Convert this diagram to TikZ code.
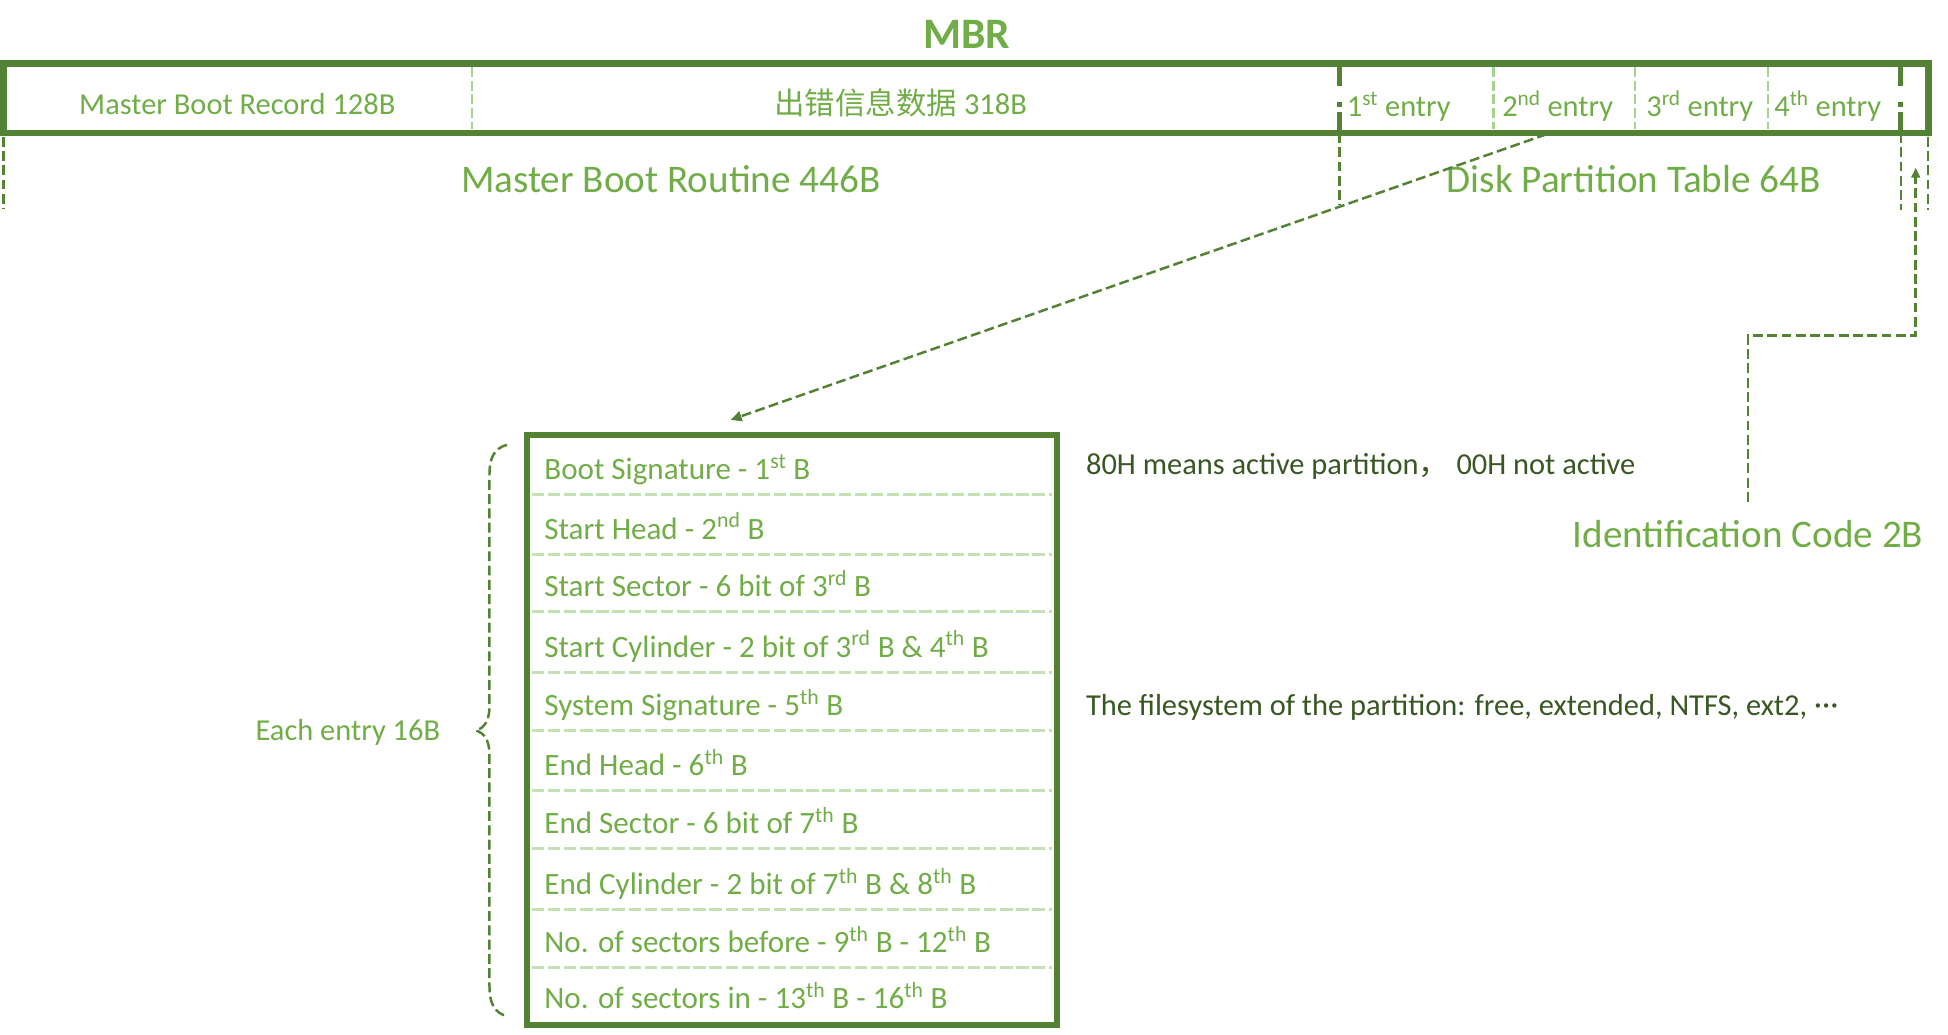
\documentclass[tikz,border=0pt]{standalone}
\usepackage{fontspec}
\setmainfont{Carlito}
\newfontfamily\cjk{Noto Sans CJK SC}
\usetikzlibrary{arrows.meta}
\definecolor{gtext}{HTML}{70AD47}
\definecolor{gline}{HTML}{548235}
\definecolor{glight}{HTML}{A9D18E}
\definecolor{gpale}{HTML}{C5E0B4}
\definecolor{gdark}{HTML}{385723}
\tikzset{
  lbl/.style={text=gtext, font=\fontsize{24.5}{28}\selectfont, inner sep=0pt, anchor=base},
  lblw/.style={lbl, anchor=base west},
  rowl/.style={text=gtext, font=\fontsize{25}{28}\selectfont, inner sep=0pt, anchor=base west},
  bigl/.style={text=gtext, font=\fontsize{31.5}{36}\selectfont, inner sep=0pt, anchor=base},
  notel/.style={text=gdark, font=\fontsize{24.5}{28}\selectfont, inner sep=0pt, anchor=base west},
  titl/.style={text=gtext, font=\bfseries\fontsize{35}{40}\selectfont, inner sep=0pt, anchor=base},
  barbox/.style={draw=gline, line width=5.5pt, minimum width=1549pt, minimum height=56pt, inner sep=0pt},
  entbox/.style={draw=gline, line width=5pt, minimum width=427pt, minimum height=475pt, inner sep=0pt},
  lightdiv/.style={draw=glight, line width=2pt, dash pattern=on 8pt off 3pt},
  rowdiv/.style={draw=gpale, line width=2.5pt, dash pattern=on 10pt off 3pt},
  darkdiv/.style={draw=gline, line width=4pt, dash pattern=on 15pt off 13pt on 4pt off 4pt on 30pt off 0pt},
  conn/.style={draw=gline, line width=2pt, dash pattern=on 8pt off 3.5pt},
  tip/.style={-{Triangle[length=9pt,width=8pt]}},
}
\begin{document}
\begin{tikzpicture}[x=1pt,y=-1pt]
\useasboundingbox (0,0) rectangle (1568,833);
% title
\node[titl] (mbr) at (778,39) {MBR};
% top bar
\node[barbox] (bar) at (777.5,79) {};
% coordinates on the bar
\coordinate (t380) at (380,54);  \coordinate (b380) at (380,104);
\coordinate (t1202) at (1202,54); \coordinate (b1202) at (1202,104);
\coordinate (t1316) at (1316,54); \coordinate (b1316) at (1316,104);
\coordinate (t1423) at (1423,54); \coordinate (b1423) at (1423,104);
\coordinate (t1078) at (1078,54); \coordinate (b1078) at (1078,107);
\coordinate (t1530) at (1530,54); \coordinate (b1530) at (1530,107);
\coordinate (d1078) at (1078,165);
\coordinate (d1530) at (1530,169);
\coordinate (b3) at (3,110); \coordinate (d3) at (3,168);
\coordinate (b1552) at (1552,110); \coordinate (d1552) at (1552,169);
\draw[lightdiv] (t380) -- (b380);
\draw[lightdiv] (t1202) -- (b1202);
\draw[lightdiv] (t1316) -- (b1316);
\draw[lightdiv] (t1423) -- (b1423);
\draw[darkdiv] (t1078) -- (b1078);
\draw[darkdiv] (t1530) -- (b1530);
\draw[conn] (b1078) -- (d1078);
\draw[conn] (b1530) -- (d1530);
\draw[conn] (b3) -- (d3);
\draw[conn] (b1552) -- (d1552);
% bar texts
\node[lbl] (mbrec) at (191,92) {Master Boot Record 128B};
\node[lbl] (err) at (725,92) {{\cjk 出错信息数据} 318B};
\node[lblw] (e1) at (1084,94) {1\textsuperscript{st} entry};
\node[lblw] (e2) at (1209,94) {2\textsuperscript{nd} entry};
\node[lblw] (e3) at (1325,94) {3\textsuperscript{rd} entry};
\node[lblw] (e4) at (1428,94) {4\textsuperscript{th} entry};
\node[bigl] (mbrout) at (540,155) {Master Boot Routine 446B};
\node[bigl] (dpt) at (1315,155) {Disk Partition Table 64B};
\node[bigl] (idc) at (1407,441) {Identification Code 2B};
% entry box
\node[entbox] (ebox) at (637.5,587.5) {};
\foreach \yy in {398,446,492,541,588,636,683,732,779}{
  \draw[rowdiv] (428,\yy) -- (847,\yy);
}
\node[rowl] (r1) at (438,386) {Boot Signature - 1\textsuperscript{st} B};
\node[rowl] (r2) at (438,434) {Start Head - 2\textsuperscript{nd} B};
\node[rowl] (r3) at (438,480) {Start Sector - 6 bit of 3\textsuperscript{rd} B};
\node[rowl] (r4) at (438,529) {Start Cylinder - 2 bit of 3\textsuperscript{rd} B \& 4\textsuperscript{th} B};
\node[rowl] (r5) at (438,576) {System Signature - 5\textsuperscript{th} B};
\node[rowl] (r6) at (438,624) {End Head - 6\textsuperscript{th} B};
\node[rowl] (r7) at (438,671) {End Sector - 6 bit of 7\textsuperscript{th} B};
\node[rowl] (r8) at (438,720) {End Cylinder - 2 bit of 7\textsuperscript{th} B \& 8\textsuperscript{th} B};
\node[rowl] (r9) at (438,767) {No. of sectors before - 9\textsuperscript{th} B - 12\textsuperscript{th} B};
\node[rowl] (r10) at (438,812) {No. of sectors in - 13\textsuperscript{th} B - 16\textsuperscript{th} B};
% notes
\node[notel] (n1) at (874,382) {80H means active partition{\cjk ，}\hspace{6pt}00H not active};
\node[notel] (n2) at (874,576) {The filesystem of the partition: free, extended, NTFS, ext2, \raisebox{0.05em}{·\kern0.5pt·\kern0.5pt·}};
% brace
\node[lbl] (each) at (280,596) {Each entry 16B};
\draw[conn] (408,358) .. controls (398,361) and (394,368) .. (394,382) -- (394,568)
  .. controls (394,580) and (390,586) .. (383,588)
  .. controls (390,590) and (394,596) .. (394,608) -- (394,794)
  .. controls (394,808) and (398,815) .. (408,818);
% arrow from partition table to entry box
\coordinate (pfrom) at (1245,108);
\coordinate (pto) at (588,338);
\draw[conn, tip] (pfrom) -- (pto);
% identification code arrow
\coordinate (ia) at (1407,404);
\coordinate (ib) at (1542,135);
\draw[conn, -{Triangle[length=8pt,width=7pt]}] (ia) -- (1407,270) -- (1542,270) -- (ib);
\end{tikzpicture}
\end{document}
